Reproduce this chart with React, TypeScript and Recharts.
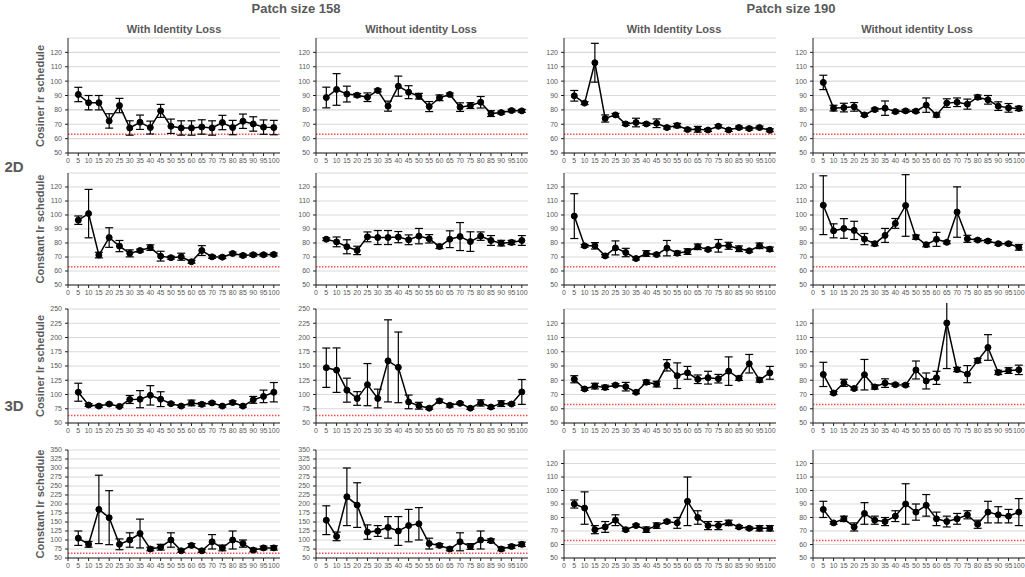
import React from 'react';
import { LineChart, Line, XAxis, YAxis, CartesianGrid, ErrorBar, ReferenceLine } from 'recharts';

// epochs on the x axis
const epochs = [5, 10, 15, 20, 25, 30, 35, 40, 45, 50, 55, 60, 65, 70, 75, 80, 85, 90, 95, 100];
const xTicks = [0, 5, 10, 15, 20, 25, 30, 35, 40, 45, 50, 55, 60, 65, 70, 75, 80, 85, 90, 95, 100];
const yTicksSmall = [50, 60, 70, 80, 90, 100, 110, 120];
const yTicks250 = [50, 75, 100, 125, 150, 175, 200, 225, 250];
const yTicks350 = [50, 75, 100, 125, 150, 175, 200, 225, 250, 275, 300, 325, 350];
const baseline = 63;

// 2D, cosine lr schedule
const cos2d158Id = [90.7, 85, 85, 72.3, 83, 67.4, 71.4, 67.7, 79.3, 68.6, 67.4, 67.4, 68.1, 67.4, 71.2, 67.7, 72.1, 70.2, 68, 67.7];
const cos2d158IdErr = [5, 5, 5, 5, 5, 5, 5, 4.5, 4.5, 5, 5, 5, 5, 5, 5, 5, 5, 5, 5, 5];
const cos2d158NoId = [88.6, 94.2, 91, 90.2, 88.8, 93.5, 82.6, 96.5, 92.3, 89.5, 82.3, 88.4, 90.7, 81.9, 83, 85.3, 77.4, 78.1, 79.5, 79.3];
const cos2d158NoIdErr = [7.2, 11, 5.5, 1.2, 3, 1, 3.5, 7, 4.5, 2, 3.5, 2, 1, 3, 2, 4, 2, 1, 1, 1];
const cos2d190Id = [89.8, 84.7, 112.8, 74, 76.5, 70.2, 71.2, 70.2, 70.7, 67.7, 69.1, 66.3, 66.5, 66, 68.6, 66, 67.7, 67, 67.7, 65.8];
const cos2d190IdErr = [3.7, 1, 13.5, 2.5, 1, 1, 3, 1, 3, 1, 1.5, 1, 2, 1, 1, 1, 1, 1, 1, 1];
const cos2d190NoId = [99.1, 81.2, 81.6, 82.1, 76.5, 80.2, 81.2, 78.8, 79.3, 79.1, 83.3, 76.5, 84.7, 85.3, 84, 88.8, 87, 82.6, 81.4, 81];
const cos2d190NoIdErr = [5, 2, 3, 3, 1, 1, 5, 1, 1, 1, 5, 1.5, 3, 3, 3.5, 1.5, 3, 3, 3, 1.5];

// 2D, constant lr schedule
const const2d158Id = [96.3, 101, 71.4, 83.9, 77.8, 72.6, 74.6, 76.7, 70.6, 69.5, 70.2, 66.6, 74.6, 70.1, 69.9, 72.5, 71.1, 71.6, 71.6, 71.8];
const const2d158IdErr = [3, 17.3, 2, 7, 4, 2.5, 1, 2, 3.5, 1, 2.5, 1, 3.5, 1, 1, 1, 1, 1, 1, 1];
const const2d158NoId = [82.7, 80.8, 77.3, 74.7, 84.4, 83.9, 83.9, 84.2, 82.3, 84.9, 83, 77.5, 82.7, 84.6, 81, 84.9, 81.8, 79.9, 80.4, 81.8];
const const2d158NoIdErr = [1, 3.5, 5, 3, 3.5, 5, 5, 4, 3.5, 5.5, 3, 1.5, 6, 10, 7, 3, 3.5, 2, 1.5, 3.5];
const const2d190Id = [99.2, 78, 78, 70.8, 76.5, 73.2, 68.9, 72.5, 71.7, 76.3, 72.7, 73.9, 77.3, 75.4, 78, 78, 75.9, 74.4, 78, 75.6];
const const2d190IdErr = [16, 1, 2.3, 1, 5, 3, 1, 2, 1, 5.5, 1.5, 2, 2, 1, 4.5, 2.5, 2, 1, 2, 1.5];
const const2d190NoId = [107, 88.7, 90.4, 89, 82.8, 79.5, 85.4, 94, 106.8, 84.2, 78.8, 82.6, 80.5, 102.1, 83, 82.1, 81.4, 79.5, 79.5, 76.9];
const const2d190NoIdErr = [21, 5, 7, 6.5, 4, 1.5, 5, 3.5, 22, 1.5, 1.5, 5, 1, 18, 2.5, 1, 1, 1, 1, 2];

// 3D, cosine lr schedule
const cos3d158Id = [104, 81.5, 79.7, 83.3, 79.1, 91.2, 91.8, 98.5, 91.8, 83.9, 79.7, 85.2, 82.7, 85.2, 79.7, 85.8, 79.7, 90.6, 96.7, 104];
const cos3d158IdErr = [15.8, 2.5, 2, 1.5, 1.5, 7, 15, 17, 13, 2, 2, 5, 3, 2, 2, 3, 2, 6, 11, 17];
const cos3d158NoId = [147, 142.7, 107.6, 93, 117.3, 93, 159, 147.6, 87, 80.3, 76, 88.8, 81, 84.5, 76, 85.2, 78, 84, 83.3, 104.5];
const cos3d158NoIdErr = [34.5, 39, 21, 12, 37, 16.4, 72, 62, 12, 6, 2, 3, 3, 2, 2, 5.5, 2.5, 5, 2, 21.8];
const cos3d190Id = [80.7, 73.9, 75.9, 75, 76.6, 75.5, 71.6, 78.6, 77.3, 90.5, 83.2, 85.2, 80.7, 81.8, 81.1, 86.4, 81.4, 91.6, 80.2, 85.2];
const cos3d190IdErr = [2.5, 1, 2, 1.5, 1, 3, 1, 1.5, 2, 4, 9, 4.5, 3, 4.5, 3, 10, 1.5, 6.5, 1.5, 4.5];
const cos3d190NoId = [84.1, 71, 78.2, 74.2, 83.9, 75.3, 78, 76.9, 76.6, 87.2, 79.5, 81.7, 120.2, 87.5, 84.3, 93.8, 103, 85.5, 86.8, 87.3];
const cos3d190NoIdErr = [8.5, 1, 2.5, 1, 10.7, 1.5, 3, 1, 1, 6.3, 5.6, 4.6, 32, 1.5, 6, 1.5, 9, 1.5, 2, 3.3];

// 3D, constant lr schedule
const const3d158Id = [105, 88, 185, 162, 88, 100, 118, 75, 80, 100, 70, 85, 70, 95, 78, 100, 90, 72, 78, 78];
const const3d158IdErr = [20, 8, 95, 75, 15, 20, 40, 5, 8, 20, 4, 5, 4, 20, 8, 25, 10, 5, 5, 6];
const const3d158NoId = [155, 110, 220, 197, 122, 125, 135, 125, 140, 145, 90, 85, 75, 95, 82, 100, 98, 75, 82, 88];
const const3d158NoIdErr = [40, 12, 80, 62, 20, 15, 30, 40, 45, 45, 15, 5, 5, 25, 8, 25, 5, 5, 5, 6];
const const3d190Id = [90, 87, 71, 73, 78, 71, 74, 71, 74, 77, 76, 92, 80, 74, 74, 76, 73, 72, 72, 72];
const const3d190IdErr = [3, 12, 3, 4, 4, 1, 1, 2, 2, 1, 4, 18, 5, 3, 3, 2, 1, 1, 2, 2];
const const3d190NoId = [86, 76, 79, 73, 83, 78, 77, 81, 90, 84, 89, 79, 77, 79, 82, 75, 84, 82, 81, 84];
const const3d190NoIdErr = [6, 1, 2, 3, 8, 3, 3, 4, 15, 6, 8, 5, 4, 4, 3, 3, 8, 6, 5, 10];

const PLOT_LEFT = [68, 316, 564, 813];
const PLOT_W = 212;
const ROWS = [
  { top: 38, bottom: 153 },
  { top: 173, bottom: 285 },
  { top: 309, bottom: 423 },
  { top: 450, bottom: 558 },
];
const Y_W = 30;
const M_TOP = 6;
const M_RIGHT = 4;
const X_H = 16;

const FONT = '"Liberation Sans", Arial, sans-serif';
const GRAY = '#595959';

const charts = [
  { row: 0, col: 0, mean: cos2d158Id, err: cos2d158IdErr, ticks: yTicksSmall, max: 130 },
  { row: 0, col: 1, mean: cos2d158NoId, err: cos2d158NoIdErr, ticks: yTicksSmall, max: 130 },
  { row: 0, col: 2, mean: cos2d190Id, err: cos2d190IdErr, ticks: yTicksSmall, max: 130 },
  { row: 0, col: 3, mean: cos2d190NoId, err: cos2d190NoIdErr, ticks: yTicksSmall, max: 130 },
  { row: 1, col: 0, mean: const2d158Id, err: const2d158IdErr, ticks: yTicksSmall, max: 130 },
  { row: 1, col: 1, mean: const2d158NoId, err: const2d158NoIdErr, ticks: yTicksSmall, max: 130 },
  { row: 1, col: 2, mean: const2d190Id, err: const2d190IdErr, ticks: yTicksSmall, max: 130 },
  { row: 1, col: 3, mean: const2d190NoId, err: const2d190NoIdErr, ticks: yTicksSmall, max: 130 },
  { row: 2, col: 0, mean: cos3d158Id, err: cos3d158IdErr, ticks: yTicks250, max: 250 },
  { row: 2, col: 1, mean: cos3d158NoId, err: cos3d158NoIdErr, ticks: yTicks250, max: 250 },
  { row: 2, col: 2, mean: cos3d190Id, err: cos3d190IdErr, ticks: yTicksSmall, max: 130 },
  { row: 2, col: 3, mean: cos3d190NoId, err: cos3d190NoIdErr, ticks: yTicksSmall, max: 130 },
  { row: 3, col: 0, mean: const3d158Id, err: const3d158IdErr, ticks: yTicks350, max: 350 },
  { row: 3, col: 1, mean: const3d158NoId, err: const3d158NoIdErr, ticks: yTicks350, max: 350 },
  { row: 3, col: 2, mean: const3d190Id, err: const3d190IdErr, ticks: yTicksSmall, max: 130 },
  { row: 3, col: 3, mean: const3d190NoId, err: const3d190NoIdErr, ticks: yTicksSmall, max: 130 },
];

const MiniChart = ({ row, col, mean, err, ticks, max }: any) => {
  const { top, bottom } = ROWS[row];
  const data = epochs.map((x, i) => ({ x, v: mean[i], e: err[i] }));
  const tickStyle = { fontSize: 7, fill: GRAY, fontFamily: FONT };
  return (
    <div style={{ position: 'absolute', left: PLOT_LEFT[col] - Y_W, top: top - M_TOP }}>
      <LineChart
        width={Y_W + PLOT_W + M_RIGHT}
        height={M_TOP + (bottom - top) + X_H}
        data={data}
        margin={{ top: M_TOP, right: M_RIGHT, bottom: 0, left: 0 }}
      >
        <CartesianGrid vertical={false} stroke="#d9d9d9" strokeWidth={1.2} />
        <XAxis
          dataKey="x"
          type="number"
          domain={[0, 103]}
          ticks={xTicks}
          interval={0}
          allowDataOverflow
          height={X_H}
          tick={tickStyle}
          tickSize={3}
          tickMargin={2}
          stroke="#222"
        />
        <YAxis
          type="number"
          domain={[50, max]}
          ticks={ticks}
          interval={0}
          allowDataOverflow
          width={Y_W}
          tick={tickStyle}
          tickSize={3}
          tickMargin={3}
          stroke="#222"
        />
        <ReferenceLine y={baseline} stroke="#ff5050" strokeWidth={1.5} strokeDasharray="1.5 1.5" />
        <Line
          type="linear"
          dataKey="v"
          stroke="#000"
          strokeWidth={1.5}
          dot={{ r: 3, fill: '#000', stroke: '#000', strokeWidth: 1 }}
          isAnimationActive={false}
        >
          <ErrorBar dataKey="e" width={4} stroke="#000" strokeWidth={1.2} direction="y" />
        </Line>
      </LineChart>
    </div>
  );
};

const Label = ({ x, y, size, children, rotate }: any) => (
  <div
    style={{
      position: 'absolute',
      left: x,
      top: y,
      transform: `translate(-50%, -50%)${rotate ? ' rotate(-90deg)' : ''}`,
      whiteSpace: 'nowrap',
      fontFamily: FONT,
      fontWeight: 'bold',
      fontSize: size,
      color: GRAY,
      lineHeight: 1,
    }}
  >
    {children}
  </div>
);

const rowTitles = ['Cosiner lr schedule', 'Constant lr schedule', 'Cosiner lr schedule', 'Constant lr schedule'];

export default function App() {
  return (
    <div style={{ position: 'absolute', left: 0, top: 0, width: 1025, height: 577, background: '#fff', overflow: 'hidden' }}>
      <Label x={296} y={8} size={13}>Patch size 158</Label>
      <Label x={791} y={8} size={13}>Patch size 190</Label>
      <Label x={174} y={29} size={11}>With Identity Loss</Label>
      <Label x={421} y={29} size={11}>Without identity Loss</Label>
      <Label x={674} y={29} size={11}>With Identity Loss</Label>
      <Label x={917} y={29} size={11}>Without identity Loss</Label>
      <Label x={14} y={166} size={15}>2D</Label>
      <Label x={14} y={405} size={15}>3D</Label>
      {ROWS.map((r, i) => (
        <Label key={i} x={40} y={(r.top + r.bottom) / 2} size={11} rotate>
          {rowTitles[i]}
        </Label>
      ))}
      {charts.map((c, i) => (
        <MiniChart key={i} {...c} />
      ))}
    </div>
  );
}
